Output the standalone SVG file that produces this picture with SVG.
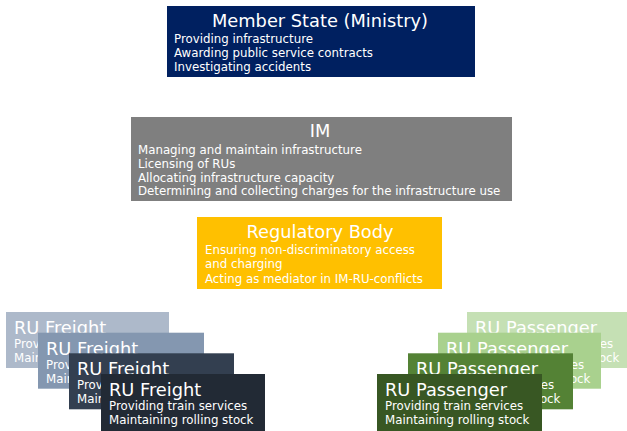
<svg xmlns="http://www.w3.org/2000/svg" width="627" height="431" viewBox="0 0 627 431">
<style>
text{font-family:"DejaVu Sans","Noto Sans",sans-serif;fill:#ffffff}
.t{font-size:17.8px}
.b{font-size:11.8px}
.c{text-anchor:middle}
</style>
<rect width="627" height="431" fill="#ffffff"/>
<g id="member-state">
<rect x="167" y="6" width="308" height="71" fill="#002060"/>
<text class="t c" x="320" y="27">Member State (Ministry)</text>
<text class="b" x="174" y="42.5">Providing infrastructure</text>
<text class="b" x="174" y="56.8">Awarding public service contracts</text>
<text class="b" x="174" y="71">Investigating accidents</text>
</g>
<g id="im">
<rect x="131" y="117" width="381" height="84" fill="#7f7f7f"/>
<text class="t c" x="320" y="137">IM</text>
<text class="b" x="138" y="154">Managing and maintain infrastructure</text>
<text class="b" x="138" y="167.8">Licensing of RUs</text>
<text class="b" x="138" y="181.6">Allocating infrastructure capacity</text>
<text class="b" x="138" y="195.4">Determining and collecting charges for the infrastructure use</text>
</g>
<g id="regulatory-body">
<rect x="197" y="217" width="245" height="72" fill="#ffc000"/>
<text class="t c" x="320" y="238">Regulatory Body</text>
<text class="b" x="205" y="254">Ensuring non-discriminatory access</text>
<text class="b" x="205" y="268.3">and charging</text>
<text class="b" x="205" y="282.6">Acting as mediator in IM-RU-conflicts</text>
</g>
<g id="ru-freight-1">
<rect x="6" y="312" width="163" height="56" fill="#adb9ca"/>
<text class="t" x="14" y="334">RU Freight</text>
<text class="b" x="14" y="348">Providing train services</text>
<text class="b" x="14" y="362">Maintaining rolling stock</text>
</g>
<g id="ru-freight-2">
<rect x="38" y="332.7" width="166" height="56" fill="#8497b0"/>
<text class="t" x="46" y="354.7">RU Freight</text>
<text class="b" x="46" y="368.7">Providing train services</text>
<text class="b" x="46" y="382.7">Maintaining rolling stock</text>
</g>
<g id="ru-freight-3">
<rect x="69" y="353.3" width="165" height="56" fill="#333f50"/>
<text class="t" x="77" y="375.3">RU Freight</text>
<text class="b" x="77" y="389.3">Providing train services</text>
<text class="b" x="77" y="403.3">Maintaining rolling stock</text>
</g>
<g id="ru-freight-4">
<rect x="101" y="374" width="164" height="57" fill="#222a35"/>
<text class="t" x="109" y="396">RU Freight</text>
<text class="b" x="109" y="410">Providing train services</text>
<text class="b" x="109" y="424">Maintaining rolling stock</text>
</g>
<g id="ru-passenger-1">
<rect x="467" y="312" width="164" height="56" fill="#c5e0b4"/>
<text class="t" x="475" y="334">RU Passenger</text>
<text class="b" x="475" y="348">Providing train services</text>
<text class="b" x="475" y="362">Maintaining rolling stock</text>
</g>
<g id="ru-passenger-2">
<rect x="438" y="332.7" width="163" height="56" fill="#a9d18e"/>
<text class="t" x="446" y="354.7">RU Passenger</text>
<text class="b" x="446" y="368.7">Providing train services</text>
<text class="b" x="446" y="382.7">Maintaining rolling stock</text>
</g>
<g id="ru-passenger-3">
<rect x="408" y="353.3" width="165" height="56" fill="#548235"/>
<text class="t" x="416" y="375.3">RU Passenger</text>
<text class="b" x="416" y="389.3">Providing train services</text>
<text class="b" x="416" y="403.3">Maintaining rolling stock</text>
</g>
<g id="ru-passenger-4">
<rect x="377" y="374" width="165" height="57" fill="#385723"/>
<text class="t" x="385" y="396">RU Passenger</text>
<text class="b" x="385" y="410">Providing train services</text>
<text class="b" x="385" y="424">Maintaining rolling stock</text>
</g>
<g id="connectors"/>
</svg>
